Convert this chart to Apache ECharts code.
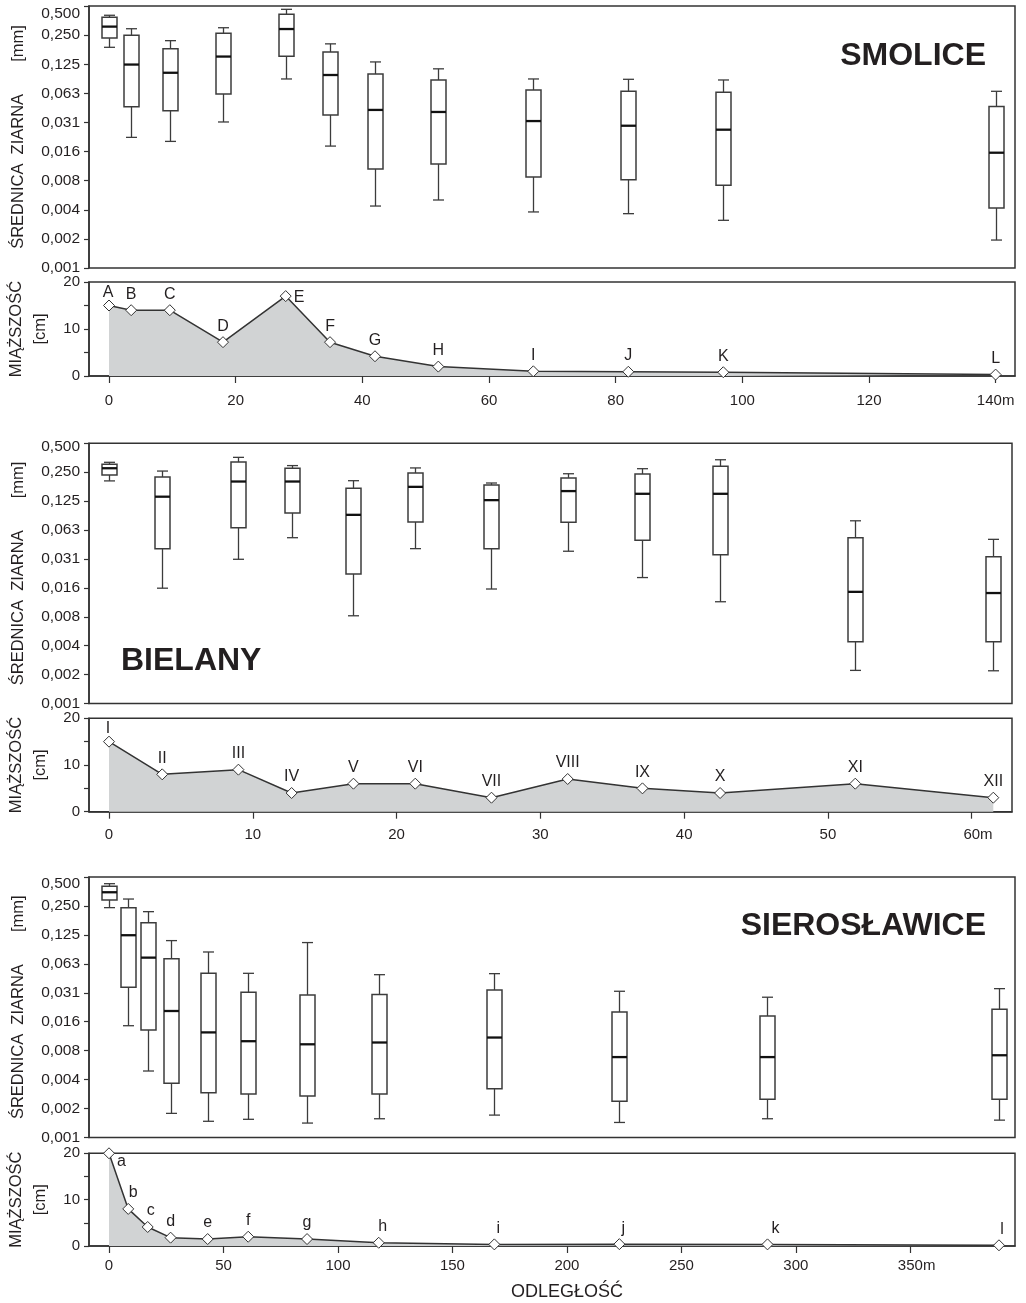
<!DOCTYPE html>
<html><head><meta charset="utf-8">
<script src="https://cdn.jsdelivr.net/npm/echarts@6/dist/echarts.min.js"></script>
<style>html,body{margin:0;padding:0;background:#fff}#c{width:1026px;height:1303px}</style>
</head><body><div id="c"></div>
<script>
// ---------- tick labels ----------
const sizeTickLabels = ['0,001','0,002','0,004','0,008','0,016','0,031','0,063','0,125','0,250','0,500'];

// ---------- SMOLICE ----------
const smoliceNames = ['A','B','C','D','E','F','G','H','I','J','K','L'];
const smoliceDist  = [0, 3.5, 9.6, 18, 27.9, 34.9, 42, 52, 67, 82, 97, 140];
const smoliceThick = [15, 14, 14, 7.2, 17, 7.2, 4.2, 2, 1, 0.9, 0.8, 0.3];
const smoliceMin = [0.187, 0.0219, 0.0199, 0.0316, 0.088, 0.0178, 0.00427, 0.00493, 0.00371, 0.00356, 0.00304, 0.0019];
const smoliceQ1  = [0.233, 0.0455, 0.0414, 0.0615, 0.151, 0.0373, 0.0103, 0.0116, 0.00852, 0.0080, 0.0070, 0.00407];
const smoliceMed = [0.306, 0.124, 0.102, 0.150, 0.289, 0.0967, 0.0421, 0.0401, 0.0323, 0.0289, 0.0263, 0.0152];
const smoliceQ3  = [0.382, 0.249, 0.181, 0.261, 0.411, 0.167, 0.0991, 0.0859, 0.0677, 0.0656, 0.0641, 0.0457];
const smoliceMax = [0.401, 0.291, 0.219, 0.298, 0.462, 0.203, 0.132, 0.112, 0.088, 0.0873, 0.0859, 0.0656];

// ---------- BIELANY ----------
const bielanyNames = ['I','II','III','IV','V','VI','VII','VIII','IX','X','XI','XII'];
const bielanyDist  = [0, 3.7, 9.0, 12.7, 17.0, 21.3, 26.6, 31.9, 37.1, 42.5, 51.9, 61.5];
const bielanyThick = [15, 8, 9, 4, 6, 6, 3, 7, 5, 4, 6, 3];
const bielanyMin = [0.203, 0.0155, 0.031, 0.052, 0.0080, 0.040, 0.0152, 0.0376, 0.020, 0.0112, 0.00216, 0.00214];
const bielanyQ1  = [0.234, 0.040, 0.066, 0.094, 0.0218, 0.076, 0.040, 0.0753, 0.049, 0.0345, 0.0043, 0.0043];
const bielanyMed = [0.275, 0.139, 0.200, 0.200, 0.090, 0.176, 0.128, 0.159, 0.149, 0.149, 0.0142, 0.0138];
const bielanyQ3  = [0.302, 0.223, 0.319, 0.275, 0.170, 0.245, 0.184, 0.218, 0.239, 0.289, 0.052, 0.033];
const bielanyMax = [0.317, 0.257, 0.357, 0.293, 0.204, 0.277, 0.193, 0.241, 0.272, 0.337, 0.078, 0.050];

// ---------- SIEROSŁAWICE ----------
const sieroNames = ['a','b','c','d','e','f','g','h','i','j','k','l'];
const sieroDist  = [0, 8.4, 16.9, 26.9, 43.1, 60.8, 86.5, 117.8, 168.3, 222.9, 287.6, 388.7];
const sieroThick = [20, 8, 4.1, 1.8, 1.5, 2, 1.5, 0.7, 0.35, 0.4, 0.35, 0.15];
const sieroMin = [0.240, 0.0142, 0.0048, 0.00174, 0.00144, 0.00151, 0.00138, 0.00153, 0.00167, 0.0014, 0.00153, 0.00148];
const sieroQ1  = [0.289, 0.0356, 0.0128, 0.00358, 0.00286, 0.00277, 0.00264, 0.00277, 0.00314, 0.00232, 0.00244, 0.00244];
const sieroMed = [0.347, 0.124, 0.0725, 0.0202, 0.0121, 0.0098, 0.0091, 0.0095, 0.0107, 0.0067, 0.0067, 0.0070];
const sieroQ3  = [0.401, 0.240, 0.167, 0.0708, 0.0498, 0.0316, 0.0297, 0.0299, 0.0334, 0.0197, 0.0179, 0.0211];
const sieroMax = [0.426, 0.295, 0.218, 0.109, 0.083, 0.0498, 0.104, 0.0482, 0.0494, 0.0324, 0.0281, 0.0345];

const distTicksSmolice = [0, 20, 40, 60, 80, 100, 120, 140];
const distTicksBielany = [0, 10, 20, 30, 40, 50, 60];
const distTicksSiero   = [0, 50, 100, 150, 200, 250, 300, 350];

// ---------- styling / layout ----------
const FONT = 'Liberation Sans, Arial, sans-serif';
const TXT = '#231f20';
const LINE = '#333';

const labelTweaks = {
  smolice: { A: {offset: [-1, 3]}, E: {position: 'right', offset: [0, 1]} },
  bielany: { I: {offset: [-1, 3]} },
  siero: {
    a: {position: 'right', offset: [0, 8]}, b: {offset: [5, 0]}, c: {offset: [3, 0]},
    h: {offset: [4, 0]}, i: {offset: [4, 0]}, j: {offset: [4, 0]}, k: {offset: [8, 0]}, l: {offset: [3, 0]}
  }
};

const panels = [
  {key: 'smolice', dist: smoliceDist, names: smoliceNames, thick: smoliceThick,
   mn: smoliceMin, q1: smoliceQ1, md: smoliceMed, q3: smoliceQ3, mx: smoliceMax,
   ticks: distTicksSmolice, xmin: -3.16, xmax: 143.06, unitPad: '',
   boxGrid: {left: 89, width: 926, top: 6, height: 262},
   thGrid: {left: 89, width: 926, top: 282, height: 94}, labMargin: 17, topPad: 16},
  {key: 'bielany', dist: bielanyDist, names: bielanyNames, thick: bielanyThick,
   mn: bielanyMin, q1: bielanyQ1, md: bielanyMed, q3: bielanyQ3, mx: bielanyMax,
   ticks: distTicksBielany, xmin: -1.391, xmax: 62.8, unitPad: '   ',
   boxGrid: {left: 89, width: 923, top: 443.3, height: 260.2},
   thGrid: {left: 89, width: 923, top: 718.3, height: 93.4}, labMargin: 16, topPad: 6},
  {key: 'siero', dist: sieroDist, names: sieroNames, thick: sieroThick,
   mn: sieroMin, q1: sieroQ1, md: sieroMed, q3: sieroQ3, mx: sieroMax,
   ticks: distTicksSiero, xmin: -8.736, xmax: 395.7, unitPad: '   ',
   boxGrid: {left: 89, width: 926, top: 877, height: 260.5},
   thGrid: {left: 89, width: 926, top: 1153.3, height: 92.7}, labMargin: 12, topPad: 13}
];

function boxRenderer(params, api) {
  const x = api.value(0);
  const pMin = api.coord([x, api.value(1)]);
  const pQ1 = api.coord([x, api.value(2)]);
  const pMed = api.coord([x, api.value(3)]);
  const pQ3 = api.coord([x, api.value(4)]);
  const pMax = api.coord([x, api.value(5)]);
  const cx = Math.round(pMin[0]) + 0.5;
  const hb = 7.5, hc = 5.5;
  const ls = {stroke: '#3c3c3c', lineWidth: 1.3};
  return {type: 'group', children: [
    {type: 'line', shape: {x1: cx, y1: pQ3[1], x2: cx, y2: pMax[1]}, style: ls},
    {type: 'line', shape: {x1: cx - hc, y1: pMax[1], x2: cx + hc, y2: pMax[1]}, style: ls},
    {type: 'line', shape: {x1: cx, y1: pQ1[1], x2: cx, y2: pMin[1]}, style: ls},
    {type: 'line', shape: {x1: cx - hc, y1: pMin[1], x2: cx + hc, y2: pMin[1]}, style: ls},
    {type: 'rect', shape: {x: cx - hb, y: pQ3[1], width: 2 * hb, height: pQ1[1] - pQ3[1]},
     style: {fill: '#fff', stroke: '#3c3c3c', lineWidth: 1.5}},
    {type: 'line', shape: {x1: cx - hb, y1: pMed[1], x2: cx + hb, y2: pMed[1]},
     style: {stroke: '#111', lineWidth: 2.3}}
  ]};
}

const gridBase = {show: true, borderColor: LINE, borderWidth: 1.5, containLabel: false, outerBoundsMode: 'none'};
const grids = [], xAxes = [], yAxes = [], series = [];
panels.forEach((p, k) => {
  const gBox = grids.length;
  grids.push(Object.assign({}, gridBase, p.boxGrid));
  const gTh = grids.length;
  grids.push(Object.assign({}, gridBase, p.thGrid));

  // box panel axes
  xAxes.push({gridIndex: gBox, type: 'value', min: p.xmin, max: p.xmax, show: false});
  yAxes.push({
    gridIndex: gBox, type: 'value', min: -10, max: -1, interval: 1,
    name: 'ŚREDNICA  ZIARNA       [mm]', nameLocation: 'middle', nameRotate: 90, nameGap: 62,
    nameTextStyle: {fontSize: 16.5, color: TXT, fontFamily: FONT},
    axisLine: {show: true, onZero: false, lineStyle: {color: LINE, width: 1.5}},
    axisTick: {show: true, length: 5, lineStyle: {color: LINE, width: 1.2}},
    splitLine: {show: false},
    axisLabel: {
      margin: 9, fontSize: 15.5, color: TXT, fontFamily: FONT,
      formatter: (v) => {
        const i = Math.round(v) + 10;
        const t = sizeTickLabels[i];
        return i === 9 ? '{top|' + t + '}' : t;
      },
      rich: {top: {padding: [p.topPad, 0, 0, 0], fontSize: 15.5, color: TXT, fontFamily: FONT}}
    }
  });
  series.push({
    type: 'custom', xAxisIndex: gBox, yAxisIndex: gBox, renderItem: boxRenderer,
    encode: {x: 0, y: [1, 2, 3, 4, 5]},
    data: p.dist.map((d, i) => [d, Math.log2(p.mn[i]), Math.log2(p.q1[i]), Math.log2(p.md[i]),
                                Math.log2(p.q3[i]), Math.log2(p.mx[i])])
  });

  // thickness panel axes
  const last = p.ticks[p.ticks.length - 1];
  xAxes.push({
    gridIndex: gTh, type: 'value', min: p.xmin, max: p.xmax,
    axisLine: {show: true, onZero: false, lineStyle: {color: LINE, width: 1.5}},
    axisTick: {show: true, customValues: p.ticks, length: 7, lineStyle: {color: LINE, width: 1.2}},
    splitLine: {show: false},
    axisLabel: {
      customValues: p.ticks, margin: p.labMargin, fontSize: 15, color: TXT, fontFamily: FONT,
      formatter: (v) => (v === last ? p.unitPad + v + 'm' : String(v))
    },
    name: k === 2 ? 'ODLEGŁOŚĆ' : '', nameLocation: 'middle', nameGap: 37,
    nameTextStyle: {fontSize: 18, color: TXT, fontFamily: FONT, padding: [0, 0, 0, 30]}
  });
  yAxes.push({
    gridIndex: gTh, type: 'value', min: 0, max: 20, interval: 5,
    name: 'MIĄŻSZOŚĆ\n[cm]', nameLocation: 'middle', nameRotate: 90, nameGap: 37,
    nameTextStyle: {fontSize: 16.5, lineHeight: 24, color: TXT, fontFamily: FONT},
    axisLine: {show: true, onZero: false, lineStyle: {color: LINE, width: 1.5}},
    axisTick: {show: true, length: 5, lineStyle: {color: LINE, width: 1.2}},
    splitLine: {show: false},
    axisLabel: {margin: 9, fontSize: 15, color: TXT, fontFamily: FONT,
      formatter: (v) => (v % 10 === 0 ? String(v) : '')}
  });
  const tw = labelTweaks[p.key];
  series.push({
    type: 'line', xAxisIndex: gTh, yAxisIndex: gTh,
    showAllSymbol: true, symbol: 'diamond', symbolSize: 11,
    lineStyle: {color: LINE, width: 1.5},
    itemStyle: {color: '#fff', borderColor: LINE, borderWidth: 1},
    areaStyle: {color: '#d1d3d4', opacity: 1},
    label: {show: true, position: 'top', distance: 2, formatter: '{b}', fontSize: 16, color: TXT, fontFamily: FONT},
    data: p.dist.map((d, i) => {
      const item = {name: p.names[i], value: [d, p.thick[i]]};
      if (tw[p.names[i]]) item.label = tw[p.names[i]];
      return item;
    })
  });
});

const chart = echarts.init(document.getElementById('c'), null, {renderer: 'canvas'});
chart.setOption({
  animation: false,
  backgroundColor: '#fff',
  title: [
    {text: 'SMOLICE', right: 40, top: 40, padding: 0,
     textStyle: {fontSize: 32, fontWeight: 'bold', color: TXT, fontFamily: FONT}},
    {text: 'BIELANY', left: 121, top: 645, padding: 0,
     textStyle: {fontSize: 32, fontWeight: 'bold', color: TXT, fontFamily: FONT}},
    {text: 'SIEROSŁAWICE', right: 40, top: 910, padding: 0,
     textStyle: {fontSize: 32, fontWeight: 'bold', color: TXT, fontFamily: FONT}}
  ],
  grid: grids,
  xAxis: xAxes,
  yAxis: yAxes,
  series: series
});
</script></body></html>
